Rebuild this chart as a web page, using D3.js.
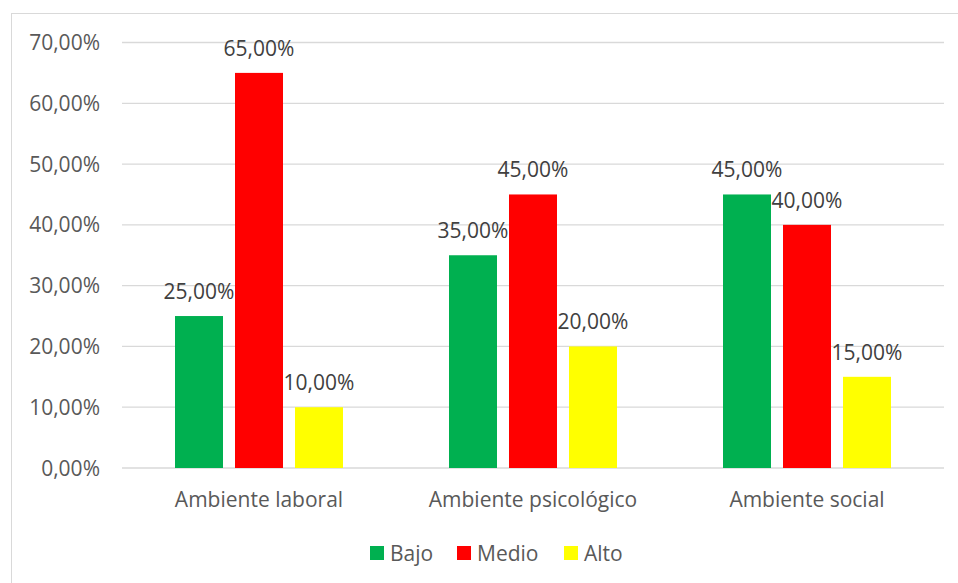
<!DOCTYPE html>
<html><head><meta charset="utf-8">
<script src="https://cdn.jsdelivr.net/npm/d3@7"></script>
<style>body{margin:0;background:#fff}svg{display:block}text{font-family:"Open Sans",sans-serif}</style>
</head><body><svg id="c" width="958" height="583"></svg>
<script>
const categories = ["Ambiente laboral", "Ambiente psicológico", "Ambiente social"];
const seriesNames = ["Bajo", "Medio", "Alto"];
const bajo = [25, 35, 45];
const medio = [65, 45, 40];
const alto = [10, 20, 15];
const yTicks = [0, 10, 20, 30, 40, 50, 60, 70];
const colors = ["#00B050", "#FF0000", "#FFFF00"];
const seriesValues = [bajo, medio, alto];

const svg = d3.select("#c");
const fmt = v => v.toFixed(2).replace(".", ",") + "%";

svg.append("rect").attr("x", 11.5).attr("y", 13.5).attr("width", 1000).attr("height", 1000)
  .attr("fill", "none").attr("stroke", "#d9d9d9").attr("stroke-width", 1);

const pLeft = 122, pRight = 944, pTop = 42.5, pBottom = 468;
const x = d3.scaleBand().domain(categories).range([pLeft, pRight]).paddingInner(0).paddingOuter(0);
const inner = d3.scaleBand().domain(seriesNames).range([0, 168]).paddingInner(0.2).paddingOuter(0);
const y = d3.scaleLinear().domain([0, 70]).range([pBottom, pTop]);

const g = svg.append("g");
g.selectAll("line.grid").data(yTicks).join("line")
  .attr("x1", pLeft).attr("x2", pRight)
  .attr("y1", d => y(d)).attr("y2", d => y(d))
  .attr("stroke", "#d9d9d9").attr("stroke-width", 1.3);

g.selectAll("text.yl").data(yTicks).join("text")
  .attr("x", 100).attr("y", d => y(d)).attr("dy", "0.36em")
  .attr("text-anchor", "end").attr("font-size", 21).attr("fill", "#595959")
  .text(d => fmt(d));

const off = (x.bandwidth() - 168) / 2;
const data = [];
categories.forEach((c, i) => seriesNames.forEach((s, j) => data.push({c, s, j, v: seriesValues[j][i]})));

g.selectAll("rect.bar").data(data).join("rect")
  .attr("x", d => x(d.c) + off + inner(d.s))
  .attr("width", inner.bandwidth())
  .attr("y", d => y(d.v)).attr("height", d => y(0) - y(d.v))
  .attr("fill", d => colors[d.j]);

g.selectAll("text.dl").data(data).join("text")
  .attr("x", d => x(d.c) + off + inner(d.s) + inner.bandwidth() / 2)
  .attr("y", d => y(d.v) - 17)
  .attr("text-anchor", "middle").attr("font-size", 21).attr("fill", "#404040")
  .text(d => fmt(d.v));

g.selectAll("text.cl").data(categories).join("text")
  .attr("x", d => x(d) + x.bandwidth() / 2).attr("y", 507)
  .attr("text-anchor", "middle").attr("font-size", 21).attr("fill", "#595959")
  .text(d => d);

const legX = [370, 457, 564];
const lg = svg.append("g");
seriesNames.forEach((s, j) => {
  lg.append("rect").attr("x", legX[j]).attr("y", 546).attr("width", 14).attr("height", 14).attr("fill", colors[j]);
  lg.append("text").attr("x", legX[j] + 20).attr("y", 553).attr("dy", "0.36em")
    .attr("font-size", 21).attr("fill", "#595959").text(s);
});
</script></body></html>
